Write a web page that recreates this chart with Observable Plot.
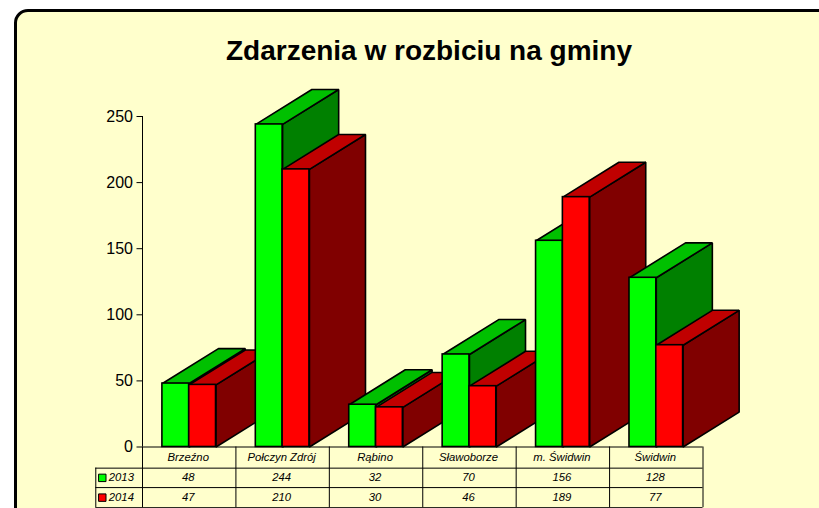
<!DOCTYPE html>
<html>
<head>
<meta charset="utf-8">
<script src="https://cdn.jsdelivr.net/npm/d3@7"></script>
<script src="https://cdn.jsdelivr.net/npm/@observablehq/plot@0.6"></script>
<style>
  html, body { margin: 0; padding: 0; background: #fff; overflow: hidden; }
  #page { position: relative; width: 819px; height: 508px; overflow: hidden; font-family: "Liberation Sans", Arial, sans-serif; }
  #panel { position: absolute; left: 13.5px; top: 9.3px; width: 900px; height: 600px; box-sizing: border-box;
           background: #ffffcc; border: 3px solid #000; border-radius: 14px; }
  #title { position: absolute; left: 40px; width: 778px; top: 35px; text-align: center; font-size: 28px; font-weight: bold; color: #000; line-height: 32px; }
  #chart { position: absolute; left: 0; top: 0; }
</style>
</head>
<body>
<div id="page">
  <div id="panel"></div>
  <div id="title">Zdarzenia w rozbiciu na gminy</div>
  <div id="chart"></div>
</div>
<script>
const categories = ["Brzeźno", "Połczyn Zdrój", "Rąbino", "Sławoborze", "m. Świdwin", "Świdwin"];
const years = ["2013", "2014"];
const values2013 = [48, 244, 32, 70, 156, 128];
const values2014 = [47, 210, 30, 46, 189, 77];
const yTicks = [0, 50, 100, 150, 200, 250];

const barWidth = 0.287;
const depthX = 0.6;
const depthY = 26.4;
const rowEdges = [0, -16, -30.7, -45.9];
const legendLeft = -0.5;

const colours = [
  {front: "#00ff00", top: "#00c000", side: "#008000"},
  {front: "#ff0000", top: "#c00000", side: "#800000"}
];
const series = [values2013, values2014];
const barStroke = {stroke: "#000", strokeWidth: 1.6, strokeLinejoin: "miter"};

const barMarks = [];
categories.forEach((c, i) => {
  series.forEach((vals, s) => {
    const x1 = i + 0.5 + (s - 1) * barWidth;
    const x2 = x1 + barWidth;
    const v = vals[i];
    const col = colours[s];
    const top = [[x1, v], [x2, v], [x2 + depthX, v + depthY], [x1 + depthX, v + depthY]];
    const side = [[x2, v], [x2 + depthX, v + depthY], [x2 + depthX, depthY], [x2, 0]];
    barMarks.push(
      Plot.line(side, {x: d => d[0], y: d => d[1], curve: "linear-closed", fill: col.side, ...barStroke}),
      Plot.line(top, {x: d => d[0], y: d => d[1], curve: "linear-closed", fill: col.top, ...barStroke}),
      Plot.rect([{x1, x2, v}], {x1: "x1", x2: "x2", y1: 0, y2: "v", fill: col.front, ...barStroke})
    );
  });
});

const tableFont = {fontFamily: "Liberation Sans, Arial, sans-serif", fontStyle: "italic", fontSize: 11.3, fill: "#000"};
const rowMid = r => (rowEdges[r] + rowEdges[r + 1]) / 2;
const idx = categories.map((_, i) => i);
const columnEdges = d3.range(categories.length + 1);

const tableMarks = [
  Plot.ruleY([rowEdges[0]], {x1: 0, x2: categories.length, stroke: "#000", strokeWidth: 1}),
  Plot.ruleY([rowEdges[1], rowEdges[2], rowEdges[3]], {x1: legendLeft, x2: categories.length, stroke: "#000", strokeWidth: 1}),
  Plot.ruleX(columnEdges, {y1: rowEdges[0], y2: rowEdges[3], stroke: "#000", strokeWidth: 1}),
  Plot.ruleX([legendLeft], {y1: rowEdges[1], y2: rowEdges[3], stroke: "#000", strokeWidth: 1}),
  Plot.text(idx, {x: i => i + 0.5, y: rowMid(0), dx: -1, text: i => categories[i], ...tableFont}),
  Plot.text(idx, {x: i => i + 0.5, y: rowMid(1), dx: -1, text: i => String(values2013[i]), ...tableFont}),
  Plot.text(idx, {x: i => i + 0.5, y: rowMid(2), dx: -1, text: i => String(values2014[i]), ...tableFont}),
  ...years.map((yr, r) => Plot.dot([yr], {
    x: legendLeft, y: rowMid(r + 1), dx: 6.5, symbol: "square", r: 4.2,
    fill: colours[r].front, stroke: "#000", strokeWidth: 1
  })),
  ...years.map((yr, r) => Plot.text([yr], {
    x: legendLeft, y: rowMid(r + 1), dx: 13, textAnchor: "start", text: d => d, ...tableFont
  }))
];

const chart = Plot.plot({
  width: 819,
  height: 508,
  marginLeft: 142,
  marginRight: 116.5,
  marginTop: 116,
  marginBottom: 61.5,
  style: {background: "transparent", overflow: "visible"},
  x: {domain: [0, categories.length], axis: null},
  y: {domain: [0, 250]},
  marks: [
    ...barMarks,
    Plot.ruleX([0], {y1: 0, y2: 250, stroke: "#000", strokeWidth: 1}),
    Plot.axisY({
      ticks: yTicks, label: null, tickSize: 5.5, tickPadding: 4,
      fontSize: 16, fontFamily: "Liberation Sans, Arial, sans-serif", stroke: "#000", color: "#000"
    }),
    ...tableMarks
  ]
});
document.getElementById("chart").appendChild(chart);
</script>
</body>
</html>
